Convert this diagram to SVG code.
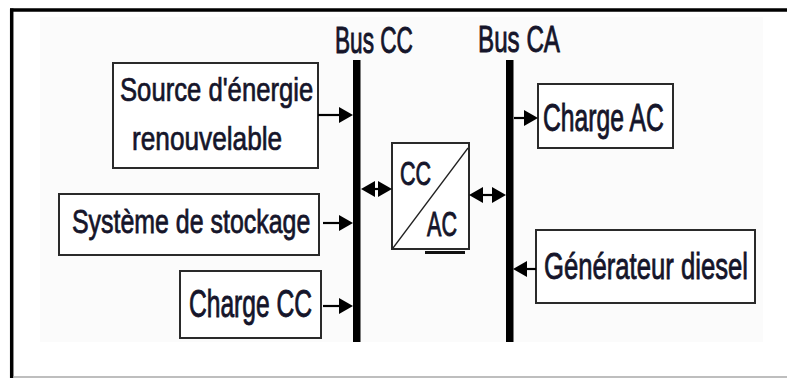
<svg xmlns="http://www.w3.org/2000/svg" width="787" height="378" viewBox="0 0 787 378">
<style>
  .box { fill: #ffffff; stroke: #2a2a2a; stroke-width: 2; }
  .lbl { font-family: "Liberation Sans", Arial, sans-serif; fill: #15152a; stroke: #15152a; stroke-width: 0.7; }
  .bus { fill: #000000; }
  .wire { stroke: #000000; stroke-width: 2.2; fill: none; }
</style>
<defs>
  <marker id="ah" markerUnits="userSpaceOnUse" markerWidth="14" markerHeight="17" refX="10" refY="8.5" orient="auto-start-reverse" viewBox="0 0 14 17">
    <path d="M0,0.5 L14,8.5 L0,16.5 z" fill="#000"/>
  </marker>
</defs>
<rect x="0" y="0" width="787" height="378" fill="#ffffff"/>
<rect x="40" y="17" width="723" height="325" fill="#fbfbfb"/>
<g id="frame">
  <line x1="10" y1="10" x2="787" y2="10" stroke="#000" stroke-width="3.5"/>
  <line x1="11.7" y1="8.5" x2="11.7" y2="378" stroke="#000" stroke-width="3.5"/>
  <line x1="13" y1="377" x2="787" y2="377" stroke="#a8a8a8" stroke-width="1.5"/>
</g>
<g id="bus-cc">
  <rect class="bus" x="353" y="60" width="7.5" height="282"/>
  <text class="lbl" transform="translate(335,53) scale(0.82,1.34)" font-size="27.6">Bus CC</text>
</g>
<g id="bus-ca">
  <rect class="bus" x="506" y="60" width="7.5" height="282"/>
  <text class="lbl" transform="translate(478,52) scale(0.82,1.26)" font-size="29.5">Bus CA</text>
</g>
<g id="source">
  <rect class="box" x="113" y="63" width="205" height="105"/>
  <text class="lbl" transform="translate(120,101) scale(0.82,1.06)" font-size="31.3">Source d'énergie</text>
  <text class="lbl" transform="translate(132,149.5) scale(0.82,1.05)" font-size="32">renouvelable</text>
</g>
<g id="stockage">
  <rect class="box" x="59" y="194" width="260" height="61"/>
  <text class="lbl" transform="translate(72,233) scale(0.82,1.09)" font-size="30.4">Système de stockage</text>
</g>
<g id="charge-cc">
  <rect class="box" x="180" y="271" width="141" height="67"/>
  <text class="lbl" transform="translate(189,316.5) scale(0.82,1.28)" font-size="30">Charge CC</text>
</g>
<g id="convertisseur">
  <rect class="box" x="392" y="143" width="77" height="106"/>
  <line x1="393" y1="248" x2="468" y2="148" stroke="#222" stroke-width="1.3"/>
  <rect x="425" y="251" width="40" height="3" fill="#111"/>
  <text class="lbl" transform="translate(400,185) scale(0.82,1.3)" font-size="26.2">CC</text>
  <text class="lbl" transform="translate(427,236) scale(0.82,1.36)" font-size="26.3">AC</text>
</g>
<g id="charge-ac">
  <rect class="box" x="538" y="84" width="135" height="64"/>
  <text class="lbl" transform="translate(543,131) scale(0.82,1.28)" font-size="30.1">Charge AC</text>
</g>
<g id="generateur">
  <rect class="box" x="536" y="230" width="219" height="73"/>
  <text class="lbl" transform="translate(544,279) scale(0.82,1.2)" font-size="31.3">Générateur diesel</text>
</g>
<g id="connectors">
  <line class="wire" x1="318" y1="115" x2="349" y2="115" marker-end="url(#ah)"/>
  <line class="wire" x1="323" y1="223" x2="349" y2="223" marker-end="url(#ah)"/>
  <line class="wire" x1="323" y1="306" x2="349" y2="306" marker-end="url(#ah)"/>
  <line class="wire" x1="365" y1="189" x2="388" y2="189" marker-start="url(#ah)" marker-end="url(#ah)"/>
  <line class="wire" x1="473" y1="195" x2="502" y2="195" marker-start="url(#ah)" marker-end="url(#ah)"/>
  <line class="wire" x1="514" y1="118" x2="534" y2="118" marker-end="url(#ah)"/>
  <line class="wire" x1="536" y1="269" x2="517" y2="269" marker-end="url(#ah)"/>
</g>
</svg>
